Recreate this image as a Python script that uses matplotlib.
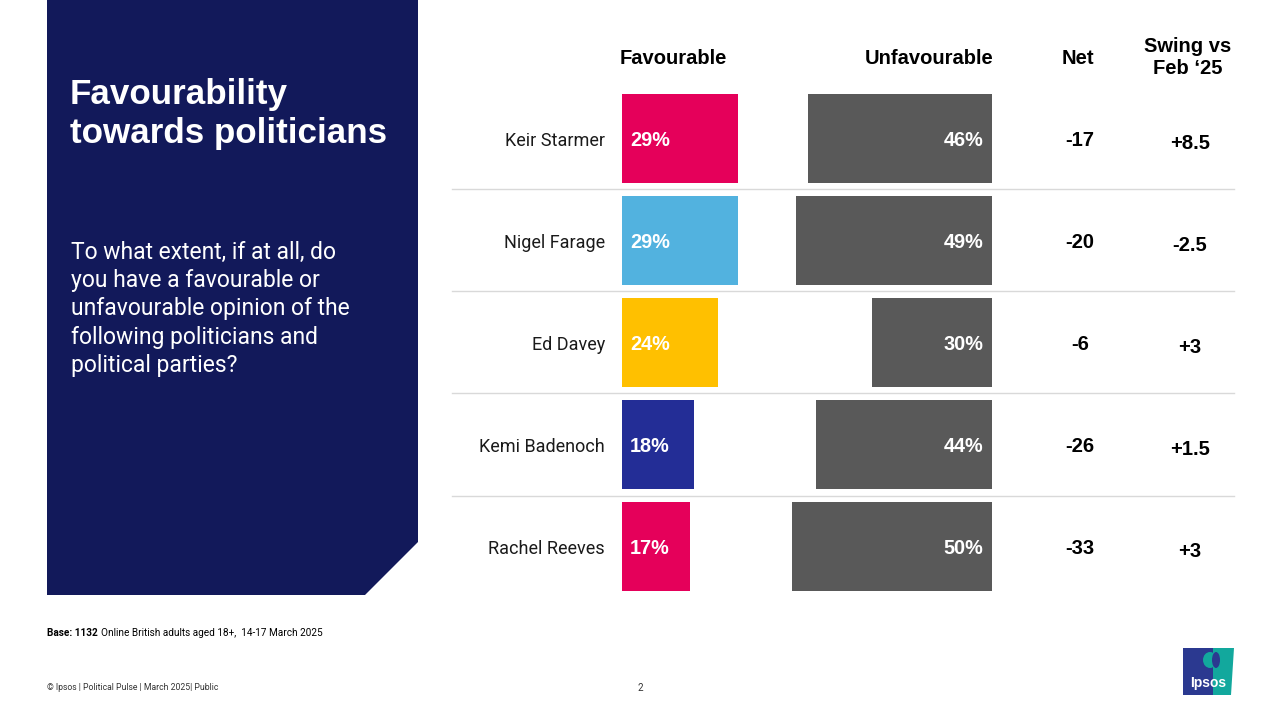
import matplotlib
matplotlib.use("Agg")
import matplotlib.pyplot as plt
from matplotlib.patches import Polygon, Ellipse
from matplotlib.transforms import blended_transform_factory

# data
politicians = ["Keir Starmer", "Nigel Farage", "Ed Davey", "Kemi Badenoch", "Rachel Reeves"]
favourable = [29, 29, 24, 18, 17]
unfavourable = [46, 49, 30, 44, 50]
net = ["-17", "-20", "-6", "-26", "-33"]
swing = ["+8.5", "-2.5", "+3", "+1.5", "+3"]
fav_colours = ["#E5005A", "#52B2DF", "#FFC000", "#232D96", "#E5005A"]
unfav_colour = "#595959"
navy = "#12195A"

W, H = 1280, 720
fig = plt.figure(figsize=(12.8, 7.2), dpi=100)

# background axes in pixel coords
bg = fig.add_axes([0, 0, 1, 1])
bg.set_xlim(0, W)
bg.set_ylim(H, 0)
bg.axis("off")

# left panel with chamfered corner
bg.add_patch(Polygon([(47, 0), (418, 0), (418, 542), (365, 595), (47, 595)],
                     closed=True, facecolor=navy, edgecolor="none"))
bg.text(70, 114, "Favourability\ntowards politicians", color="white", fontsize=25.2,
        fontweight="bold", family="Liberation Sans", va="center", ha="left", linespacing=1.2)
bg.text(71, 309, "To what extent, if at all, do\nyou have a favourable or\nunfavourable opinion of the\n"
        "following politicians and\npolitical parties?", color="white", fontsize=16.5,
        family="Roboto", va="center", ha="left", linespacing=1.3)

# headers
hdr = dict(fontsize=14.5, fontweight="bold", family="Liberation Sans", ha="center", va="center", color="black")
bg.text(673, 59, "Favourable", **hdr)
bg.text(929, 59, "Unfavourable", **hdr)
bg.text(1078, 58, "Net", **hdr)
bg.text(1188, 57, "Swing vs\nFeb \u201825", linespacing=1.2, **hdr)

# bar axes
def px_axes(left, right, top, bottom):
    return fig.add_axes([left / W, (H - bottom) / H, (right - left) / W, (bottom - top) / H])

top_px, bot_px = 87.5, 597.5
ax_f = px_axes(622, 822, top_px, bot_px)
ax_u = px_axes(752, 992, top_px, bot_px)
rows = list(range(len(politicians)))

ax_f.barh(rows, favourable, height=0.87, color=fav_colours)
ax_f.set_xlim(0, 50)
ax_u.barh(rows, unfavourable, height=0.87, color=unfav_colour)
ax_u.set_xlim(60, 0)
for a in (ax_f, ax_u):
    a.set_ylim(4.5, -0.5)
    a.axis("off")
    a.patch.set_alpha(0)

lab = dict(fontsize=14.3, fontweight="bold", family="Liberation Sans", color="white", va="center")
for i in rows:
    ax_f.text(2, i + 0.02, f"{favourable[i]}%", ha="left", **lab)
    ax_u.text(2.2, i + 0.02, f"{unfavourable[i]}%", ha="right", **lab)

# row texts with figure-pixel x and data y
tr = blended_transform_factory(bg.transData, ax_f.transData)
for i in rows:
    bg.text(605, i + 0.02, politicians[i], transform=tr, ha="right", va="center",
            fontsize=13, family="Roboto", color="#1a1a1a")
    bg.text(1080, i + 0.02, net[i], transform=tr, ha="center", va="center",
            fontsize=14.5, fontweight="bold", family="Liberation Sans", color="black")
    bg.text(1190, i + 0.05, swing[i], transform=tr, ha="center", va="center",
            fontsize=14.5, fontweight="bold", family="Liberation Sans", color="black")
for i in rows[:-1]:
    bg.plot([452, 1234], [i + 0.5, i + 0.5], transform=tr, color="#D9D9D9", lw=1)

# footer
bg.text(47, 633, "Base: 1132", fontsize=7.2, fontweight="bold", family="Roboto", va="center", ha="left")
bg.text(101, 633, "Online British adults aged 18+,  14-17 March 2025", fontsize=7.2,
        family="Roboto", va="center", ha="left")
bg.text(47, 688, "\u00a9 Ipsos | Political Pulse | March 2025| Public", fontsize=6.2,
        family="Roboto", va="center", ha="left", color="#333333")
bg.text(640, 688, "2", fontsize=7, family="Roboto", va="center", ha="center", color="#333333")

# logo
bg.add_patch(Polygon([(1183, 648), (1213, 648), (1213, 695), (1183, 695)],
                     closed=True, facecolor="#2B3990", edgecolor="none"))
bg.add_patch(Polygon([(1213, 648), (1234, 648), (1231, 695), (1213, 695)],
                     closed=True, facecolor="#12A89D", edgecolor="none"))
bg.add_patch(Ellipse((1210, 660), 14, 16, facecolor="#12A89D", edgecolor="none"))
bg.add_patch(Ellipse((1216, 660), 8, 16, facecolor="#2B3990", edgecolor="none"))
bg.text(1208, 683, "Ipsos", fontsize=10, fontweight="bold", family="Liberation Sans",
        color="white", ha="center", va="center")

fig.savefig("out.png", dpi=100)
